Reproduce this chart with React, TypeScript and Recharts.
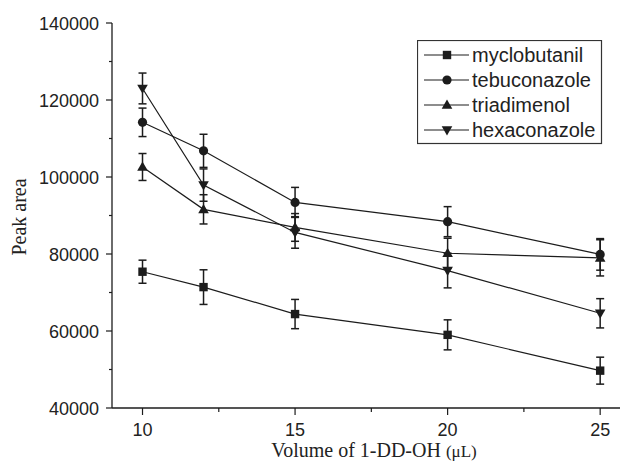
import { LineChart, Line, XAxis, YAxis, ErrorBar } from "recharts";

const volumes = [10, 12, 15, 20, 25];

const myclobutanil = [75400, 71400, 64400, 59000, 49700];
const myclobutanilErr = [3000, 4500, 3800, 3900, 3500];
const tebuconazole = [114200, 106800, 93400, 88400, 79900];
const tebuconazoleErr = [3700, 4300, 3900, 3900, 4100];
const triadimenol = [102600, 91600, 86900, 80200, 79000];
const triadimenolErr = [3500, 3800, 3600, 3900, 4700];
const hexaconazole = [123000, 97900, 85600, 75700, 64600];
const hexaconazoleErr = [4000, 4200, 4100, 4500, 3800];

const xTicks = [10, 12.5, 15, 17.5, 20, 22.5, 25];
const xLabels = [10, 15, 20, 25];
const yTicks = [40000, 50000, 60000, 70000, 80000, 90000, 100000, 110000, 120000, 130000, 140000];
const yLabels = [40000, 60000, 80000, 100000, 120000, 140000];

const series = [
  { key: "myclobutanil", shape: "square" },
  { key: "tebuconazole", shape: "circle" },
  { key: "triadimenol", shape: "up" },
  { key: "hexaconazole", shape: "down" },
];

const rows = volumes.map((v, i) => ({
  volume: v,
  myclobutanil: myclobutanil[i],
  myclobutanilErr: myclobutanilErr[i],
  tebuconazole: tebuconazole[i],
  tebuconazoleErr: tebuconazoleErr[i],
  triadimenol: triadimenol[i],
  triadimenolErr: triadimenolErr[i],
  hexaconazole: hexaconazole[i],
  hexaconazoleErr: hexaconazoleErr[i],
}));

const INK = "#1c1c1c";
const SANS = "'Liberation Sans', Arial, sans-serif";
const SERIF = "'Liberation Serif', 'Times New Roman', serif";

function Marker({ cx, cy, shape }: { cx: number; cy: number; shape: string }) {
  if (cx == null || cy == null) return null;
  if (shape === "square") return <rect x={cx - 4.2} y={cy - 4.2} width={8.4} height={8.4} fill={INK} />;
  if (shape === "circle") return <circle cx={cx} cy={cy} r={4.6} fill={INK} />;
  if (shape === "up")
    return <polygon points={`${cx - 5.3},${cy + 3.8} ${cx + 5.3},${cy + 3.8} ${cx},${cy - 5.4}`} fill={INK} />;
  return <polygon points={`${cx - 5.3},${cy - 3.8} ${cx + 5.3},${cy - 3.8} ${cx},${cy + 5.4}`} fill={INK} />;
}

function XTick({ x, y, payload }: any) {
  const major = xLabels.includes(payload.value);
  return (
    <g>
      <line x1={x} x2={x} y1={y} y2={y + (major ? 7 : 4)} stroke={INK} strokeWidth={1.2} />
      {major && (
        <text x={x} y={y + 28} textAnchor="middle" fontSize={18} fontFamily={SANS} fill="#222">
          {payload.value}
        </text>
      )}
    </g>
  );
}

function YTick({ x, y, payload }: any) {
  const major = yLabels.includes(payload.value);
  return (
    <g>
      <line x1={x - (major ? 6 : 3)} x2={x} y1={y} y2={y} stroke={INK} strokeWidth={1.2} />
      {major && (
        <text x={x - 13} y={y + 6.5} textAnchor="end" fontSize={18} fontFamily={SANS} fill="#222">
          {payload.value}
        </text>
      )}
    </g>
  );
}

// legend drawn as an overlay so it does not take space from the plot
function LegendBox() {
  return (
    <svg width={186} height={106} style={{ display: "block", position: "absolute", left: 417, top: 40 }}>
      <rect x={0.5} y={0.5} width={184} height={103} fill="#fff" stroke="#333" strokeWidth={1.2} />
      {series.map((s, i) => {
        const cy = 15 + i * 25;
        return (
          <g key={s.key}>
            <line x1={7} x2={52} y1={cy} y2={cy} stroke={INK} strokeWidth={1.2} />
            <Marker cx={30} cy={cy} shape={s.shape} />
            <text x={55} y={cy + 7} fontSize={20} fontFamily={SANS} fill="#222">
              {s.key}
            </text>
          </g>
        );
      })}
    </svg>
  );
}

export default function App() {
  return (
    <div style={{ width: 620, height: 465, position: "absolute", left: 0, top: 0, background: "#fff" }}>
      <LineChart width={620} height={465} data={rows} margin={{ top: 23, right: 0, bottom: 0, left: 0 }}>
        <XAxis
          dataKey="volume"
          type="number"
          domain={[9, 25.65]}
          ticks={xTicks}
          allowDataOverflow
          height={57}
          tickSize={0}
          tickMargin={0}
          tickLine={false}
          tick={<XTick />}
          axisLine={{ stroke: INK, strokeWidth: 1.3 }}
          label={{
            content: () => (
              <text x={374} y={457} textAnchor="middle" fontSize={20} fontFamily={SERIF} fill="#222">
                Volume of 1-DD-OH <tspan fontSize={17}>(μL)</tspan>
              </text>
            ),
          }}
        />
        <YAxis
          type="number"
          domain={[40000, 140000]}
          ticks={yTicks}
          width={112}
          tickSize={0}
          tickMargin={0}
          tickLine={false}
          tick={<YTick />}
          axisLine={{ stroke: INK, strokeWidth: 1.3 }}
          label={{
            content: () => (
              <text
                x={26}
                y={217}
                textAnchor="middle"
                fontSize={20}
                fontFamily={SERIF}
                fill="#222"
                transform="rotate(-90 26 217)"
              >
                Peak area
              </text>
            ),
          }}
        />
        {series.map((s) => (
          <Line
            key={s.key}
            dataKey={s.key}
            stroke={INK}
            strokeWidth={1.2}
            isAnimationActive={false}
            dot={(p: any) => <Marker key={`${s.key}-${p.index}`} cx={p.cx} cy={p.cy} shape={s.shape} />}
            activeDot={false}
          >
            <ErrorBar dataKey={`${s.key}Err`} width={4} stroke={INK} strokeWidth={1.5} direction="y" />
          </Line>
        ))}
      </LineChart>
      <LegendBox />
    </div>
  );
}
